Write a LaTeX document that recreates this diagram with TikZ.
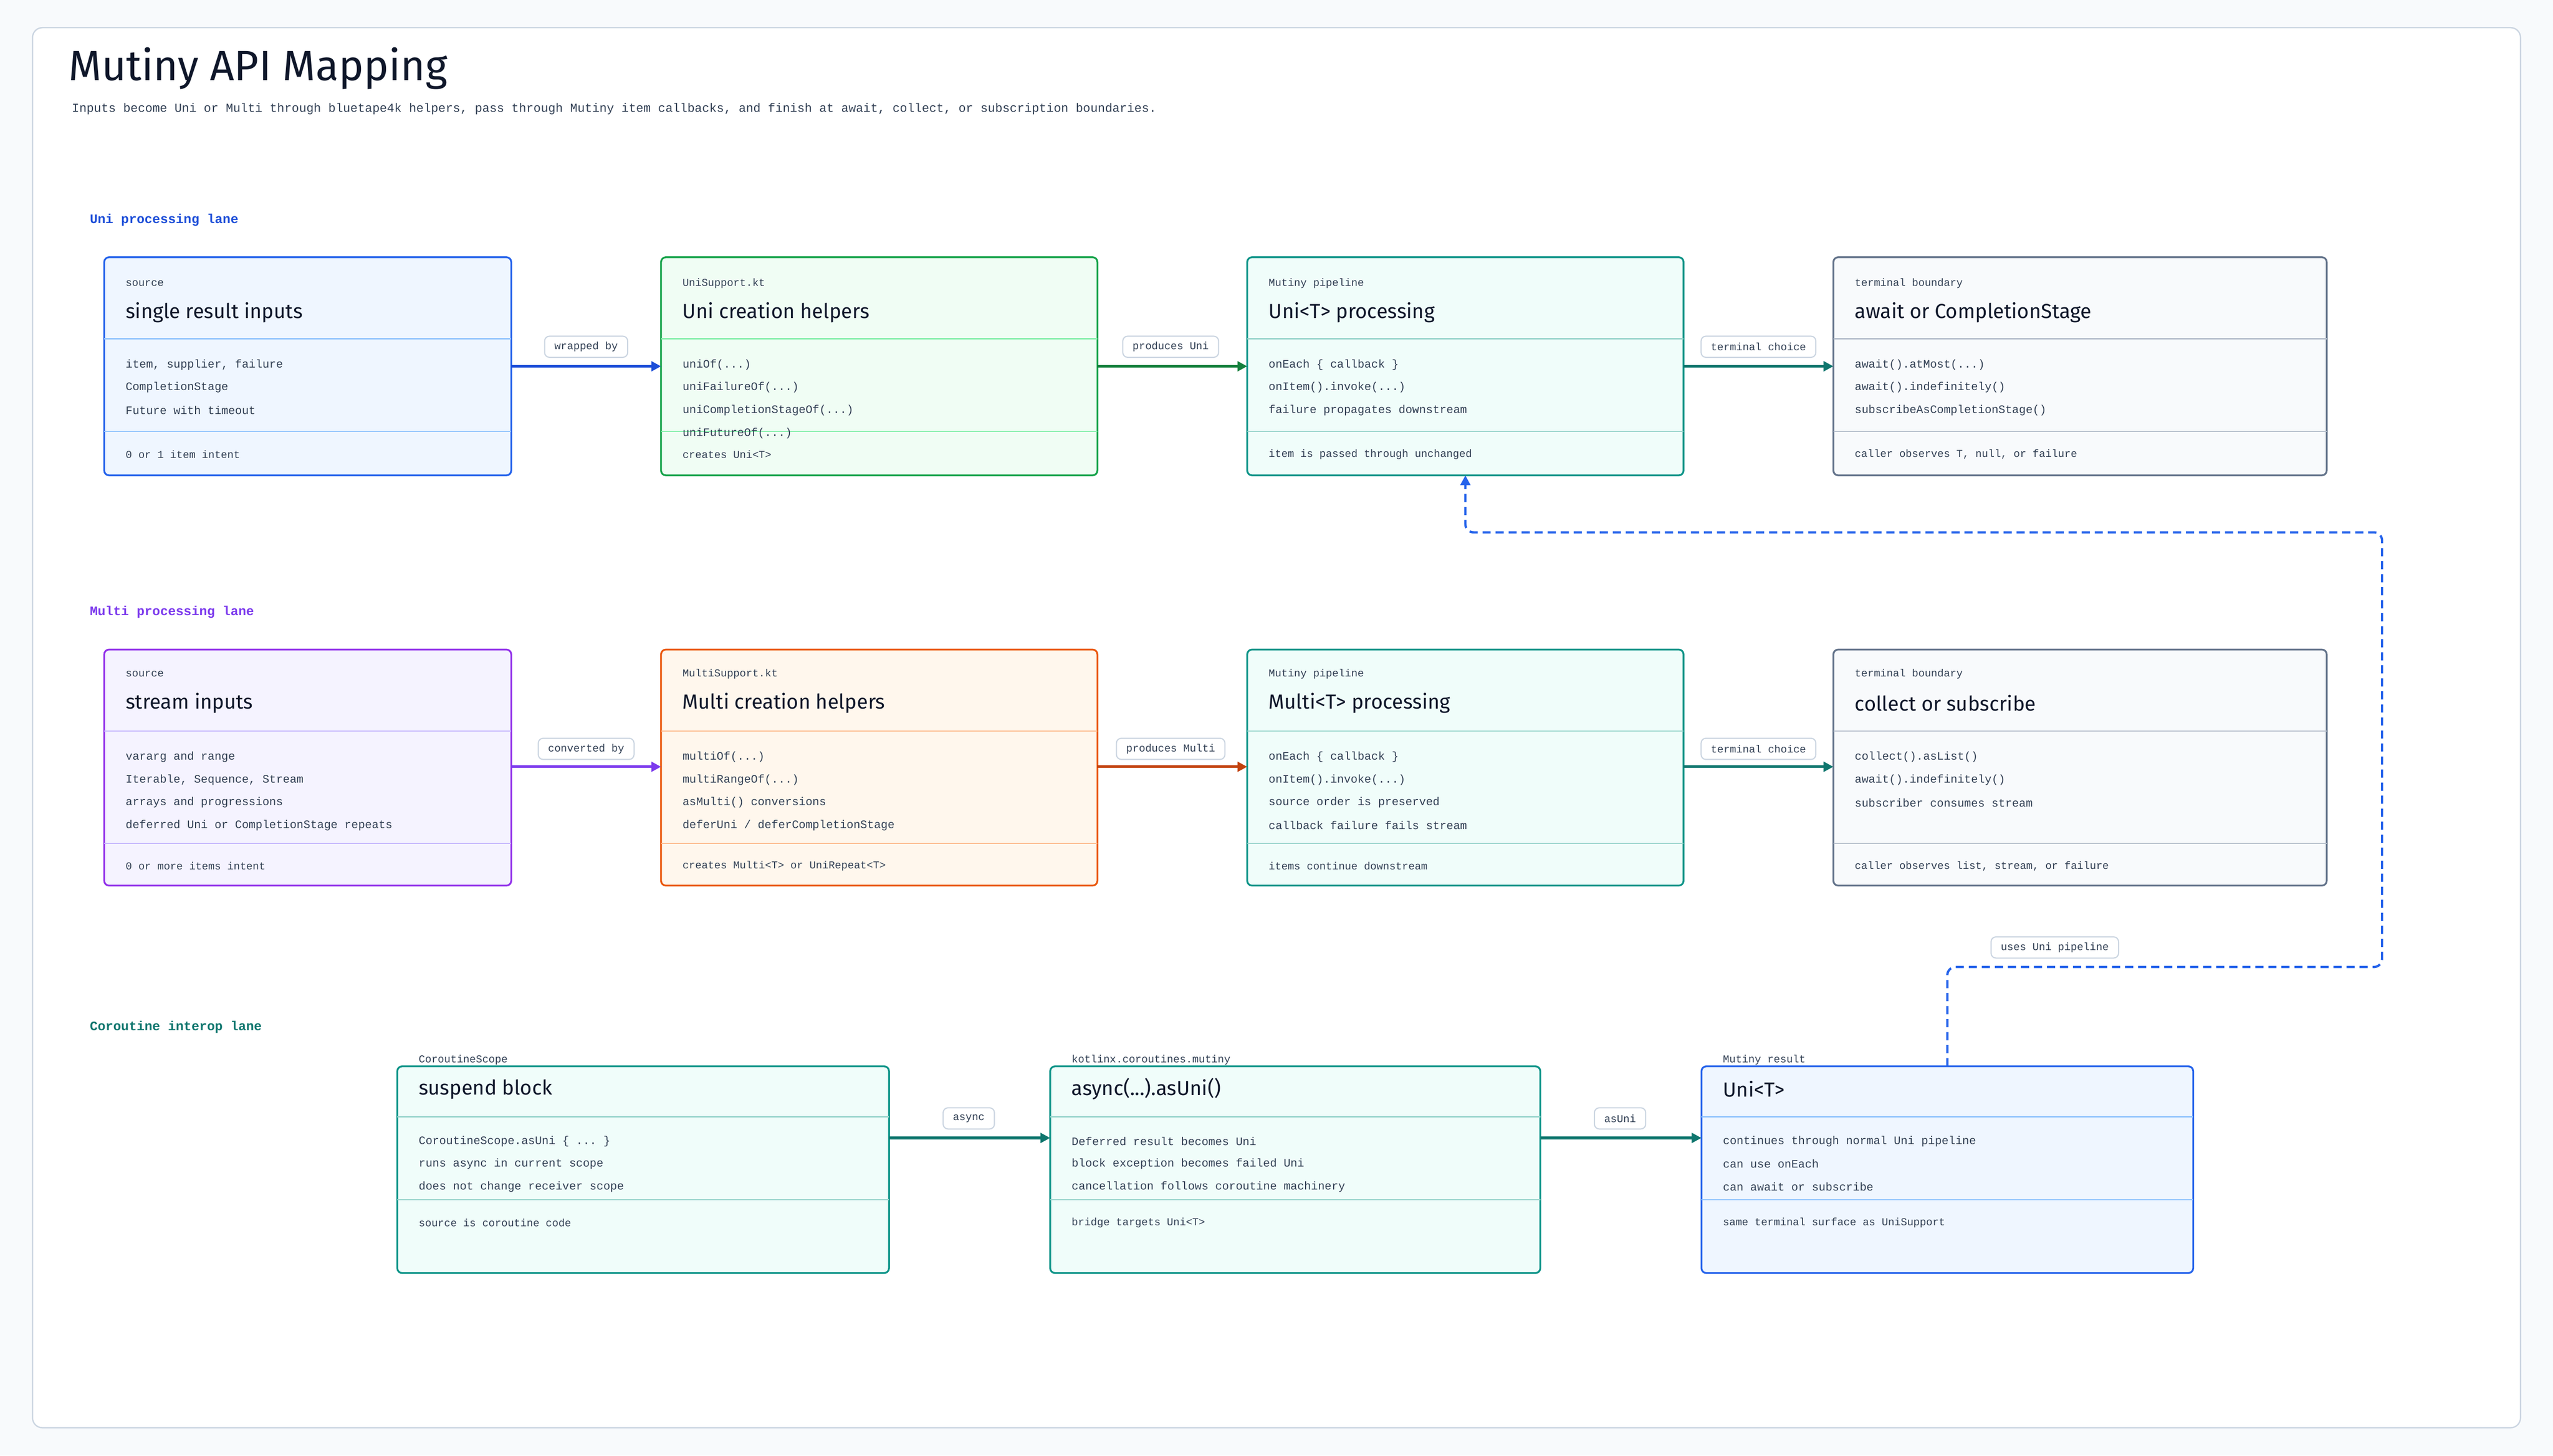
\documentclass[tikz,border=0pt]{standalone}
\usepackage{fontspec}
\setmainfont{Liberation Sans}
\setmonofont{Liberation Mono}
\newfontfamily\headf{Fira Sans}
\usetikzlibrary{arrows.meta}
\definecolor{bg}{HTML}{F8FAFC}
\definecolor{frame}{HTML}{CBD5E1}
\definecolor{ink}{HTML}{0F172A}
\definecolor{txt}{HTML}{334155}
\definecolor{cblue}{HTML}{2563EB}\definecolor{fblue}{HTML}{EFF6FF}\definecolor{dblue}{HTML}{93C5FD}
\definecolor{cgreen}{HTML}{16A34A}\definecolor{fgreen}{HTML}{F0FDF4}\definecolor{dgreen}{HTML}{86EFAC}
\definecolor{cteal}{HTML}{0D9488}\definecolor{fteal}{HTML}{F0FDFA}\definecolor{dteal}{HTML}{99D5CC}
\definecolor{cslate}{HTML}{64748B}\definecolor{fslate}{HTML}{F8FAFC}\definecolor{dslate}{HTML}{B6BFCC}
\definecolor{cpurp}{HTML}{9333EA}\definecolor{fpurp}{HTML}{F5F3FF}\definecolor{dpurp}{HTML}{C4B5FD}
\definecolor{corange}{HTML}{EA580C}\definecolor{forange}{HTML}{FFF7ED}\definecolor{dorange}{HTML}{FDBA8C}
\definecolor{agreen}{HTML}{15803D}\definecolor{ateal}{HTML}{0F766E}\definecolor{apurp}{HTML}{7C3AED}\definecolor{aorange}{HTML}{C2410C}\definecolor{ablue}{HTML}{1D4ED8}
\tikzset{
 card/.style={rounded corners=3pt, line width=1.1pt},
 small/.style={anchor=west, inner sep=0pt, font=\ttfamily\fontsize{6.5}{7}\selectfont, text=txt},
 ttl/.style={anchor=west, inner sep=0pt, font=\headf\fontsize{12.5}{14}\selectfont, text=ink},
 body/.style={anchor=west, inner sep=0pt, font=\ttfamily\fontsize{7}{8}\selectfont, text=txt},
 pill/.style={draw=frame, fill=white, rounded corners=3pt, line width=0.7pt, inner xsep=6pt, minimum height=13pt, font=\ttfamily\fontsize{6.5}{7}\selectfont, text=txt},
 lane/.style={anchor=west, inner sep=0pt, font=\ttfamily\bfseries\fontsize{8}{9}\selectfont},
 flow/.style={line width=1.6pt, -{Triangle[length=6pt,width=6pt]}},
}
% \Card{name}{x1}{y1}{x2}{y2}{col}{fill}{div}{divys}
\newcommand\Card[9]{%
 \path[card, draw=#6, fill=#7] (#2,#3) rectangle (#4,#5);
 \coordinate (#1) at ({(#2+#4)/2},{(#3+#5)/2});
 \coordinate (#1-n) at ({(#2+#4)/2},#3);
 \coordinate (#1-s) at ({(#2+#4)/2},#5);
 \coordinate (#1-w) at (#2,0);
 \coordinate (#1-e) at (#4,0);
 \foreach \yy in {#9} {\draw[#8, line width=0.8pt] (#2,\yy) -- (#4,\yy);}
}
\begin{document}
\begin{tikzpicture}[x=1pt,y=-1pt]
\path[use as bounding box, fill=bg] (0,0) rectangle (1568,894.2);
\path[fill=white, draw=frame, line width=0.8pt, rounded corners=6pt] (20,17) rectangle (1548,877);
\node[anchor=west, inner sep=0pt, font=\headf\fontsize{26}{28}\selectfont, text=ink] (title) at (42,42) {Mutiny API Mapping};
\node[anchor=west, inner sep=0pt, font=\ttfamily\fontsize{7.5}{8}\selectfont, text=txt] (sub) at (44,67) {Inputs become Uni or Multi through bluetape4k helpers, pass through Mutiny item callbacks, and finish at await, collect, or subscription boundaries.};
\node[lane, text=ablue] (l1) at (55,135) {Uni processing lane};
\node[lane, text=apurp] (l2) at (55,376) {Multi processing lane};
\node[lane, text=ateal] (l3) at (55,631) {Coroutine interop lane};

% Row 1
\Card{a}{64}{158}{314}{292}{cblue}{fblue}{dblue}{208,265}
\Card{b}{406}{158}{674}{292}{cgreen}{fgreen}{dgreen}{208,265}
\Card{c}{766}{158}{1034}{292}{cteal}{fteal}{dteal}{208,265}
\Card{d}{1126}{158}{1429}{292}{cslate}{fslate}{dslate}{208,265}
\node[small] (a1) at (77,174) {source};
\node[ttl] (a2) at (77,192) {single result inputs};
\node[body] (a3) at (77,224) {item, supplier, failure};
\node[body] (a4) at (77,238) {CompletionStage};
\node[body] (a5) at (77,252) {Future with timeout};
\node[small] (a6) at (77,279) {0 or 1 item intent};
\node[small] (b1) at (419,174) {UniSupport.kt};
\node[ttl] (b2) at (419,192) {Uni creation helpers};
\node[body] (b3) at (419,224) {uniOf(...)};
\node[body] (b4) at (419,238) {uniFailureOf(...)};
\node[body] (b5) at (419,252) {uniCompletionStageOf(...)};
\node[body] (b6) at (419,266) {uniFutureOf(...)};
\node[small] (b7) at (419,279) {creates Uni<T>};
\node[small] (c1) at (779,174) {Mutiny pipeline};
\node[ttl] (c2) at (779,192) {Uni<T> processing};
\node[body] (c3) at (779,224) {onEach \{ callback \}};
\node[body] (c4) at (779,238) {onItem().invoke(...)};
\node[body] (c5) at (779,252) {failure propagates downstream};
\node[small] (c6) at (779,279) {item is passed through unchanged};
\node[small] (d1) at (1139,174) {terminal boundary};
\node[ttl] (d2) at (1139,192) {await or CompletionStage};
\node[body] (d3) at (1139,224) {await().atMost(...)};
\node[body] (d4) at (1139,238) {await().indefinitely()};
\node[body] (d5) at (1139,252) {subscribeAsCompletionStage()};
\node[small] (d6) at (1139,279) {caller observes T, null, or failure};

% Row 2
\Card{e}{64}{399}{314}{544}{cpurp}{fpurp}{dpurp}{449,518}
\Card{f}{406}{399}{674}{544}{corange}{forange}{dorange}{449,518}
\Card{g}{766}{399}{1034}{544}{cteal}{fteal}{dteal}{449,518}
\Card{h}{1126}{399}{1429}{544}{cslate}{fslate}{dslate}{449,518}
\node[small] (e1) at (77,414) {source};
\node[ttl] (e2) at (77,432) {stream inputs};
\node[body] (e3) at (77,465) {vararg and range};
\node[body] (e4) at (77,479) {Iterable, Sequence, Stream};
\node[body] (e5) at (77,493) {arrays and progressions};
\node[body] (e6) at (77,507) {deferred Uni or CompletionStage repeats};
\node[small] (e7) at (77,532) {0 or more items intent};
\node[small] (f1) at (419,414) {MultiSupport.kt};
\node[ttl] (f2) at (419,432) {Multi creation helpers};
\node[body] (f3) at (419,465) {multiOf(...)};
\node[body] (f4) at (419,479) {multiRangeOf(...)};
\node[body] (f5) at (419,493) {asMulti() conversions};
\node[body] (f6) at (419,507) {deferUni / deferCompletionStage};
\node[small] (f7) at (419,532) {creates Multi<T> or UniRepeat<T>};
\node[small] (g1) at (779,414) {Mutiny pipeline};
\node[ttl] (g2) at (779,432) {Multi<T> processing};
\node[body] (g3) at (779,465) {onEach \{ callback \}};
\node[body] (g4) at (779,479) {onItem().invoke(...)};
\node[body] (g5) at (779,493) {source order is preserved};
\node[body] (g6) at (779,507) {callback failure fails stream};
\node[small] (g7) at (779,532) {items continue downstream};
\node[small] (h1) at (1139,414) {terminal boundary};
\node[ttl] (h2) at (1139,432) {collect or subscribe};
\node[body] (h3) at (1139,465) {collect().asList()};
\node[body] (h4) at (1139,479) {await().indefinitely()};
\node[body] (h5) at (1139,493) {subscriber consumes stream};
\node[small] (h6) at (1139,532) {caller observes list, stream, or failure};

% Row 3
\Card{p}{244}{655}{546}{782}{cteal}{fteal}{dteal}{686,737}
\Card{q}{645}{655}{946}{782}{cteal}{fteal}{dteal}{686,737}
\Card{r}{1045}{655}{1347}{782}{cblue}{fblue}{dblue}{686,737}
\node[small] (p1) at (257,651) {CoroutineScope};
\node[ttl] (p2) at (257,669) {suspend block};
\node[body] (p3) at (257,701) {CoroutineScope.asUni \{ ... \}};
\node[body] (p4) at (257,715) {runs async in current scope};
\node[body] (p5) at (257,729) {does not change receiver scope};
\node[small] (p6) at (257,751) {source is coroutine code};
\node[small] (q1) at (658,651) {kotlinx.coroutines.mutiny};
\node[ttl] (q2) at (658,669) {async(...).asUni()};
\node[body] (q3) at (658,701) {Deferred result becomes Uni};
\node[body] (q4) at (658,715) {block exception becomes failed Uni};
\node[body] (q5) at (658,729) {cancellation follows coroutine machinery};
\node[small] (q6) at (658,751) {bridge targets Uni<T>};
\node[small] (r1) at (1058,651) {Mutiny result};
\node[ttl] (r2) at (1058,669) {Uni<T>};
\node[body] (r3) at (1058,701) {continues through normal Uni pipeline};
\node[body] (r4) at (1058,715) {can use onEach};
\node[body] (r5) at (1058,729) {can await or subscribe};
\node[small] (r6) at (1058,751) {same terminal surface as UniSupport};

% connectors
\draw[flow, ablue] (a-e |- 0,225) -- (b-w |- 0,225);
\draw[flow, agreen] (b-e |- 0,225) -- (c-w |- 0,225);
\draw[flow, ateal] (c-e |- 0,225) -- (d-w |- 0,225);
\draw[flow, apurp] (e-e |- 0,471) -- (f-w |- 0,471);
\draw[flow, aorange] (f-e |- 0,471) -- (g-w |- 0,471);
\draw[flow, ateal] (g-e |- 0,471) -- (h-w |- 0,471);
\draw[flow, ateal] (p-e |- 0,699) -- (q-w |- 0,699);
\draw[flow, ateal] (q-e |- 0,699) -- (r-w |- 0,699);
\coordinate (k1) at (1196,594);
\coordinate (k2) at (1463,594);
\coordinate (k3) at (1463,327);
\coordinate (k4) at (900,327);
\draw[cblue, line width=1.4pt, dash pattern=on 5pt off 3pt, rounded corners=5pt, -{Triangle[length=6pt,width=6pt]}]
 (1196,655) -- (k1) -- (k2) -- (k3) -- (k4) -- (900,292);
\node[pill] (e1l) at (360,213) {wrapped by};
\node[pill] (e2l) at (719,213) {produces Uni};
\node[pill] (e3l) at (1080,213) {terminal choice};
\node[pill] (e4l) at (360,460) {converted by};
\node[pill] (e5l) at (719,460) {produces Multi};
\node[pill] (e6l) at (1080,460) {terminal choice};
\node[pill] (e7l) at (595,687) {async};
\node[pill] (e8l) at (995,687) {asUni};
\node[pill] (e9l) at (1262,582) {uses Uni pipeline};
\end{tikzpicture}
\end{document}
